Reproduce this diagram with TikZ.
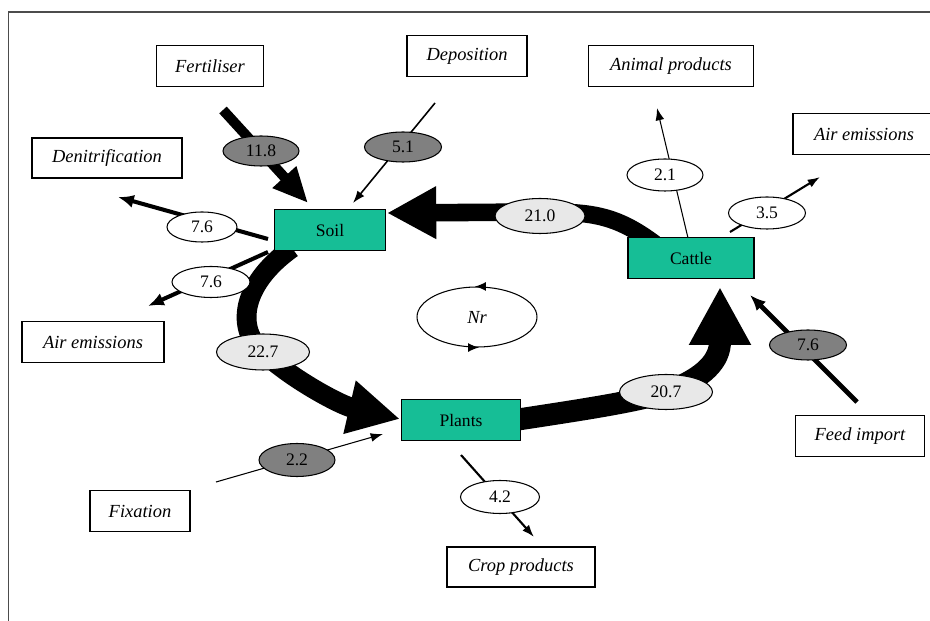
\documentclass[tikz,border=0pt]{standalone}
\usepackage{fontspec}
\setmainfont{Liberation Serif}
\usetikzlibrary{arrows.meta,shapes.geometric}
\definecolor{boxgreen}{RGB}{22,190,150}
\definecolor{dkgrey}{gray}{0.5}
\definecolor{ltgrey}{gray}{0.91}
\definecolor{framegrey}{gray}{0.3}
\begin{document}
\begin{tikzpicture}[x=0.02cm,y=-0.02cm,
  lbl/.style={draw=black, line width=0.7pt, fill=white, inner sep=2pt,
    font=\fontsize{10.5}{12}\selectfont\itshape, minimum height=0.82cm},
  gbox/.style={draw=black, line width=0.8pt, fill=boxgreen, inner sep=2pt,
    font=\fontsize{10}{12}\selectfont, minimum height=0.81cm},
  val/.style={ellipse, draw=black, line width=0.6pt, inner sep=0pt,
    font=\fontsize{10}{12}\selectfont, minimum width=1.54cm, minimum height=0.62cm},
  dkv/.style={val, fill=dkgrey},
  ltv/.style={val, fill=ltgrey},
  wtv/.style={val, fill=white},
  thin arrow/.style={line width=#1, -{Latex[length=7pt,width=5pt]}},
  mid arrow/.style={line width=#1, -{Latex[length=9pt,width=7.5pt]}},
  big flow/.style={line width=#1}
]
\useasboundingbox (0,0) rectangle (930,621);
\clip (0,0) rectangle (930,621);
% frame
\draw[line width=0.8pt, framegrey] (8.5,625) -- (8.5,12) -- (935,12);

% arrow end coordinates
\coordinate (fertS) at (223,110);  \coordinate (fertT) at (308,203);
\coordinate (depoS) at (435,103);  \coordinate (depoT) at (353,203);
\coordinate (denS) at (268,239);   \coordinate (denT) at (118,197);
\coordinate (airLS) at (268,252);  \coordinate (airLT) at (148,306);
\coordinate (animS) at (688,238);  \coordinate (animT) at (657,108);
\coordinate (airRS) at (730,232);  \coordinate (airRT) at (820,177);
\coordinate (feedS) at (857,402);  \coordinate (feedT) at (750,295);
\coordinate (fixS) at (216,482);   \coordinate (fixT) at (383,434);
\coordinate (cropS) at (461,455);  \coordinate (cropT) at (534,537);
\coordinate (csS) at (655,244);    \coordinate (csT) at (387,213);
\coordinate (spS) at (292,248);    \coordinate (spT) at (400,419);
\coordinate (pcS) at (515,420);    \coordinate (pcT) at (720,287);

% input / output arrows
\draw[line width=5.7pt, -{Triangle[length=20pt,width=17pt]}] (fertS) -- (fertT);
\draw[thin arrow=0.9pt] (depoS) -- (depoT);
\draw[mid arrow=2.3pt] (denS) -- (denT);
\draw[mid arrow=2.3pt] (airLS) -- (airLT);
\draw[thin arrow=0.6pt] (animS) -- (animT);
\draw[thin arrow=1.2pt] (airRS) -- (airRT);
\draw[mid arrow=2.8pt] (feedS) -- (feedT);
\draw[thin arrow=0.6pt] (fixS) -- (fixT);
\draw[thin arrow=1.2pt] (cropS) -- (cropT);

% big flows
\draw[big flow=10pt, -{Triangle[length=28pt,width=28pt]}]
  (csS) .. controls (615,214) and (590,212) .. (540,212) -- (csT);
\draw[big flow=11.3pt, -{Triangle[length=29.5pt,width=29pt]}]
  (spS) .. controls (240,285) and (236,330) .. (263,352)
        .. controls (290,378) and (340,405) .. (spT);
\draw[big flow=12.5pt, -{Triangle[length=33pt,width=33pt]}]
  (pcS) .. controls (580,410) and (635,402) .. (666,392)
        .. controls (705,378) and (720,360) .. (pcT);

% main nodes
\node[gbox, minimum width=2.22cm] (soil) at (330,230) {Soil};
\node[gbox, minimum width=2.38cm] (plants) at (461,420) {Plants};
\node[gbox, minimum width=2.52cm] (cattle) at (691,258) {Cattle};

% label boxes
\node[lbl, minimum width=2.14cm] (fert) at (210,66) {Fertiliser};
\node[lbl, minimum width=2.4cm] (depo) at (467,56) {Deposition};
\node[lbl, minimum width=3.3cm] (anim) at (671,66) {Animal products};
\node[lbl, minimum width=2.84cm] (airR) at (864,134) {Air emissions};
\node[lbl, minimum width=3.0cm, minimum height=0.8cm] (denit) at (107,158) {Denitrification};
\node[lbl, minimum width=2.84cm] (airL) at (93,342) {Air emissions};
\node[lbl, minimum width=2.0cm] (fix) at (140,511) {Fixation};
\node[lbl, minimum width=2.96cm, minimum height=0.8cm] (crop) at (521,567) {Crop products};
\node[lbl, minimum width=2.58cm] (feed) at (860,436) {Feed import};

% value ellipses
\node[dkv, minimum width=1.52cm, minimum height=0.6cm] (v118) at (261,151) {11.8};
\node[dkv, minimum height=0.6cm] (v51) at (403,147) {5.1};
\node[wtv, minimum width=1.4cm, minimum height=0.6cm] (v76a) at (202,227) {7.6};
\node[wtv, minimum width=1.56cm] (v76b) at (211,282) {7.6};
\node[ltv, minimum width=1.8cm, minimum height=0.7cm] (v210) at (540,216) {21.0};
\node[wtv, minimum width=1.52cm, minimum height=0.64cm] (v21) at (665,175) {2.1};
\node[wtv, minimum height=0.64cm] (v35) at (767,213) {3.5};
\node[ltv, minimum width=1.86cm, minimum height=0.72cm] (v227) at (263,352) {22.7};
\node[ltv, minimum width=1.86cm, minimum height=0.7cm] (v207) at (666,392) {20.7};
\node[dkv, minimum height=0.6cm] (v76c) at (808,345) {7.6};
\node[dkv, minimum width=1.52cm, minimum height=0.66cm] (v22) at (297,460) {2.2};
\node[wtv, minimum width=1.58cm, minimum height=0.66cm] (v42) at (500,497) {4.2};

% Nr cycle
\node[ellipse, draw=black, line width=0.6pt, minimum width=2.4cm, minimum height=1.2cm,
  inner sep=0pt, font=\fontsize{10.5}{12}\selectfont\itshape] (nr) at (477,317) {Nr};
\draw[line width=0.6pt, -{Latex[length=6pt,width=5pt]}] ([xshift=4pt]nr.north) -- ([xshift=-1pt]nr.north);
\draw[line width=0.6pt, -{Latex[length=6pt,width=5pt]}] ([xshift=-4pt]nr.south) -- ([xshift=1pt]nr.south);
\end{tikzpicture}
\end{document}
